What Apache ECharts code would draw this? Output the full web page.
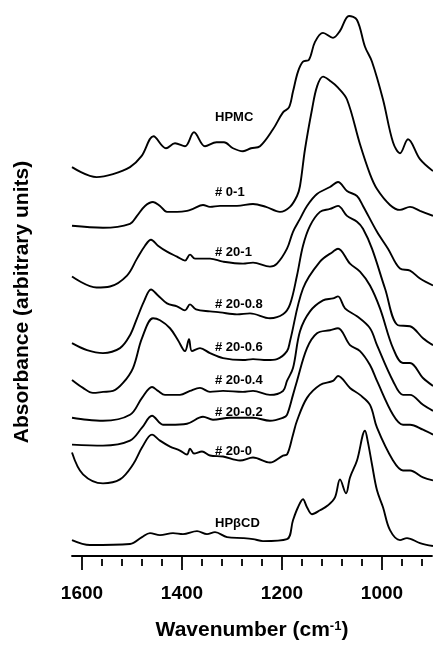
<!DOCTYPE html>
<html><head><meta charset="utf-8">
<script src="https://cdn.jsdelivr.net/npm/echarts@6/dist/echarts.min.js"></script>
<style>html,body{margin:0;padding:0;background:#fff}#c{width:433px;height:646px}</style>
</head><body><div id="c"></div><script>
const FONT = '"Liberation Sans", Arial, Helvetica, sans-serif';

// Spectra: [wavenumber (cm-1), stacked absorbance (arbitrary units)]
const hpmc = [[1620,391],[1571,381],[1538,384],[1504,391],[1481,402],[1457,422],[1432,410],[1414,415],[1394,412],[1376,426],[1354,412],[1331,416],[1316,416],[1298,410],[1278,407],[1262,410],[1244,412],[1218,429],[1198,446],[1186,451],[1178,467],[1168,487],[1158,497],[1146,499],[1134,517],[1118,526],[1098,521],[1084,528],[1066,543],[1050,539],[1034,512],[1020,497],[998,459],[978,416],[964,405],[948,419],[924,399],[898,387]];
const s0_1 = [[1620,332],[1558,330],[1504,334],[1490,342],[1474,352],[1458,356],[1444,352],[1430,346],[1410,346],[1390,347],[1378,349],[1358,353],[1344,351],[1324,352],[1290,352],[1258,354],[1232,351],[1204,346],[1184,351],[1170,362],[1164,372],[1154,409],[1140,449],[1130,472],[1118,482],[1102,477],[1088,471],[1070,459],[1044,414],[1024,384],[1010,369],[984,353],[964,348],[944,351],[924,347],[898,342]];
const s20_1 = [[1620,281],[1571,270],[1544,271],[1510,282],[1490,299],[1474,312],[1462,318],[1448,312],[1430,306],[1410,301],[1394,297],[1384,303],[1374,299],[1344,299],[1318,296],[1278,294],[1258,295],[1224,291],[1210,294],[1190,309],[1178,326],[1164,339],[1150,352],[1130,364],[1104,371],[1088,376],[1070,367],[1050,362],[1038,352],[1010,326],[988,309],[964,289],[944,287],[924,279],[898,272]];
const s20_08 = [[1620,214],[1590,207],[1558,204],[1524,209],[1504,222],[1490,239],[1476,256],[1462,268],[1448,262],[1430,254],[1410,251],[1394,247],[1384,253],[1372,248],[1344,246],[1324,245],[1290,243],[1264,244],[1224,239],[1198,243],[1184,253],[1170,282],[1158,312],[1144,332],[1124,346],[1104,349],[1088,352],[1070,342],[1050,336],[1038,329],[1020,309],[994,269],[968,232],[944,231],[918,219],[898,212]];
const s20_06 = [[1620,177],[1598,169],[1578,164],[1558,165],[1538,166],[1518,174],[1498,189],[1480,219],[1458,239],[1444,237],[1424,229],[1408,217],[1394,206],[1386,218],[1380,206],[1364,209],[1344,204],[1318,199],[1278,197],[1258,198],[1230,197],[1210,198],[1190,206],[1184,216],[1158,269],[1124,296],[1098,306],[1088,309],[1064,294],[1044,286],[1024,272],[1004,249],[978,209],[958,194],[944,194],[918,179],[898,171]];
const s20_04 = [[1620,139],[1590,137],[1558,136],[1504,142],[1480,159],[1460,170],[1448,166],[1434,162],[1404,162],[1384,166],[1364,169],[1344,165],[1318,166],[1278,165],[1258,166],[1224,162],[1198,166],[1190,176],[1178,189],[1164,226],[1144,246],[1118,257],[1098,259],[1088,261],[1074,249],[1050,241],[1024,229],[1010,212],[978,176],[958,162],[944,162],[918,152],[898,146]];
const s20_02 = [[1620,112],[1558,111],[1504,116],[1480,129],[1460,141],[1438,132],[1424,132],[1390,133],[1358,140],[1338,137],[1304,139],[1258,139],[1224,136],[1198,139],[1190,142],[1178,162],[1170,176],[1150,209],[1130,224],[1104,227],[1088,229],[1064,212],[1044,206],[1024,192],[1010,176],[978,142],[958,132],[944,132],[918,127],[898,122]];
const s20_0 = [[1620,104],[1598,82],[1558,73],[1524,77],[1498,92],[1480,109],[1460,122],[1444,116],[1424,110],[1404,106],[1390,102],[1384,108],[1376,103],[1360,105],[1344,101],[1318,100],[1284,96],[1258,99],[1224,94],[1198,101],[1190,102],[1178,122],[1170,136],[1150,159],[1124,172],[1098,176],[1088,181],[1064,169],[1044,162],[1024,152],[1010,129],[978,96],[958,86],[944,86],[918,79],[898,76]];
const hpbcd = [[1620,16],[1584,11],[1504,12],[1480,19],[1464,23],[1444,21],[1418,23],[1398,22],[1370,25],[1350,22],[1334,24],[1310,19],[1278,18],[1258,17],[1238,15],[1190,17],[1178,36],[1168,49],[1158,57],[1150,49],[1140,42],[1124,46],[1108,51],[1094,59],[1084,77],[1072,63],[1064,79],[1050,96],[1034,126],[1028,114],[1020,92],[1010,66],[998,49],[984,26],[964,16],[950,18],[924,13],[898,10]];

const seriesNames = ['HPMC', '# 0-1', '# 20-1', '# 20-0.8', '# 20-0.6', '# 20-0.4', '# 20-0.2', '# 20-0', 'HP\u03B2CD'];
const seriesData = [hpmc, s0_1, s20_1, s20_08, s20_06, s20_04, s20_02, s20_0, hpbcd];
const majorTicks = [1600, 1400, 1200, 1000];
const minorTicks = [1560, 1520, 1480, 1440, 1360, 1320, 1280, 1240, 1160, 1120, 1080, 1040, 960, 920];

// label layout (pixels)
const labelY = [117, 192, 252, 304, 347, 380, 412, 451, 523];

const chart = echarts.init(document.getElementById('c'), null, {renderer: 'canvas'});
const gridBox = {left: 72, right: 1, top: 9, bottom: 87};
const option = {
  backgroundColor: '#fff',
  animation: false,
  grid: [Object.assign({}, gridBox), Object.assign({}, gridBox)],
  xAxis: [{
    type: 'value', gridIndex: 0, min: 900, max: 1620, inverse: true, position: 'bottom',
    axisLine: {show: true, lineStyle: {color: '#000', width: 1.8}},
    axisTick: {show: true, customValues: majorTicks, length: 14, lineStyle: {color: '#000', width: 1.8}},
    axisLabel: {customValues: majorTicks, formatter: v => String(v), fontSize: 19, fontWeight: 'bold', color: '#000', margin: 28, fontFamily: FONT},
    splitLine: {show: false},
    name: 'Wavenumber (cm{sup|-1})', nameLocation: 'middle', nameGap: 64,
    nameTextStyle: {fontSize: 21, fontWeight: 'bold', color: '#000', fontFamily: FONT,
      rich: {sup: {fontSize: 13, fontWeight: 'bold', color: '#000', fontFamily: FONT, verticalAlign: 'top', padding: [0, 0, 6, 0]}}}
  }, {
    type: 'value', gridIndex: 1, min: 900, max: 1620, inverse: true, position: 'bottom',
    axisLine: {show: false},
    axisTick: {show: true, customValues: minorTicks, length: 7, lineStyle: {color: '#000', width: 1.8}},
    axisLabel: {show: false}, splitLine: {show: false}
  }],
  yAxis: [{type: 'value', gridIndex: 0, min: 0, max: 550, show: false},
          {type: 'value', gridIndex: 1, min: 0, max: 550, show: false}],
  series: seriesData.map((d, i) => ({
    name: seriesNames[i], type: 'line', xAxisIndex: 0, yAxisIndex: 0, data: d,
    showSymbol: false, smooth: 0.35, lineStyle: {color: '#000', width: 1.9}
  })),
  graphic: seriesNames.map((n, i) => ({
    type: 'text', x: 215, y: labelY[i],
    style: {text: n, font: 'bold 13px ' + FONT, fill: '#000', align: 'left', verticalAlign: 'middle'}
  })).concat([{
    type: 'text', x: 22, y: 302, rotation: Math.PI / 2,
    style: {text: 'Absorbance (arbitrary units)', font: 'bold 21px ' + FONT, fill: '#000', align: 'center', verticalAlign: 'middle'}
  }])
};
chart.setOption(option);
</script></body></html>
